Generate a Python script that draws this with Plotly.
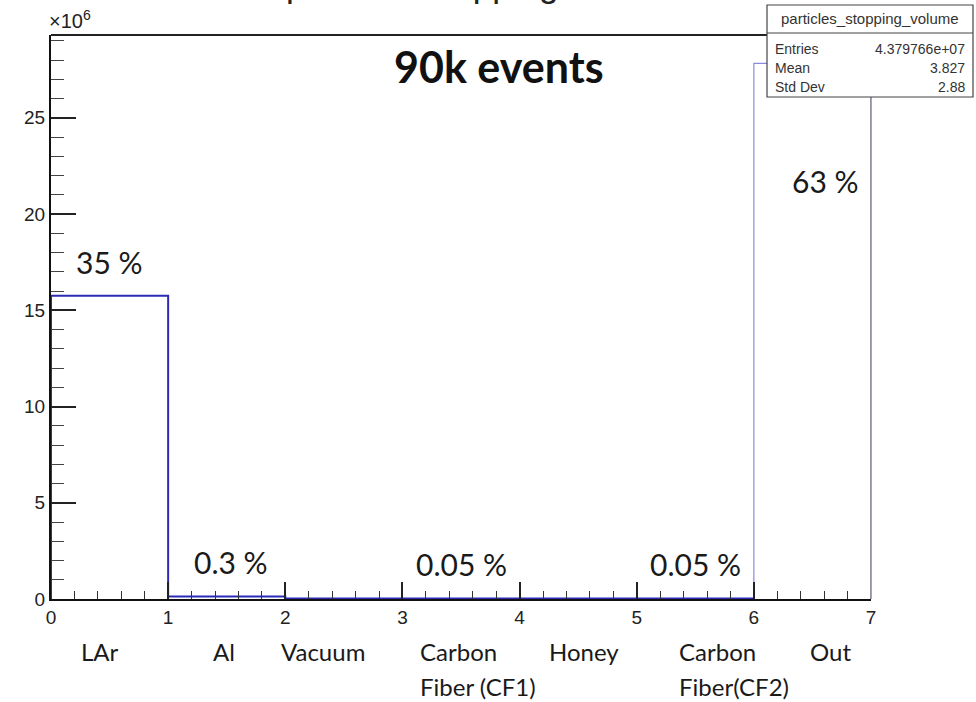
import plotly.graph_objects as go

# Histogram: particles_stopping_volume (counts per volume bin)
bin_edges = [0, 1, 2, 3, 4, 5, 6, 7]
counts = [15.75e6, 0.13e6, 0.022e6, 0.022e6, 0.022e6, 0.022e6, 27.83e6]
volumes = ["LAr", "Al", "Vacuum", "Carbon<br>Fiber (CF1)", "Honey", "Carbon<br>Fiber(CF2)", "Out"]
fractions = ["35 %", "0.3 %", "0.05 %", "0.05 %", "63 %"]
fraction_bins = [0, 1, 3, 5, 6]
y_ticks = [0, 5e6, 10e6, 15e6, 20e6, 25e6]
x_ticks = [0, 1, 2, 3, 4, 5, 6, 7]
stats_rows = [("Entries", "4.379766e+07"), ("Mean", "3.827"), ("Std Dev", "2.88")]
hist_name = "particles_stopping_volume"
title_text = "particles stopping volume"
note_text = "90k events"

W, H = 976, 702
L, R, T, B = 51, 105, 35, 103
PW, PH = W - L - R, H - T - B
Y_MAX = 29.3e6


def px(x):
    return (x - L) / PW


def py(y):
    return (H - B - y) / PH


fig = go.Figure()

# step outline for bins 0..5 (dark blue) and the last bin (lighter, thin)
xs, ys = [], []
for i in range(6):
    xs += [bin_edges[i], bin_edges[i + 1]]
    ys += [counts[i], counts[i]]
xs = [bin_edges[0]] + xs + [bin_edges[6]]
ys = [0] + ys + [0]
fig.add_trace(go.Scatter(x=xs, y=ys, mode="lines",
                         line=dict(color="#2b2bb5", width=2),
                         hoverinfo="skip", showlegend=False))
fig.add_trace(go.Scatter(x=[bin_edges[6], bin_edges[6], bin_edges[7], bin_edges[7]],
                         y=[0, counts[6], counts[6], 0], mode="lines",
                         line=dict(color="#8a8ae0", width=1.2),
                         hoverinfo="skip", showlegend=False))

axis_font = dict(family="Liberation Sans, Arial, sans-serif", size=19, color="#222")
fig.update_layout(
    width=W, height=H,
    margin=dict(l=L, r=R, t=T, b=B, pad=0),
    paper_bgcolor="white", plot_bgcolor="white",
    xaxis=dict(range=[0, 7], tickmode="array", tickvals=x_ticks,
               ticktext=[str(v) for v in x_ticks],
               ticks="inside", ticklen=17, tickwidth=1.5, tickcolor="#222",
               showgrid=False, zeroline=False, showline=True,
               linecolor="#111", linewidth=2, tickfont=axis_font,
               minor=dict(dtick=0.2, tick0=0, ticks="inside", ticklen=8,
                          tickwidth=1.2, tickcolor="#333", showgrid=False)),
    yaxis=dict(range=[0, Y_MAX], tickmode="array", tickvals=y_ticks,
               ticktext=[f"{v / 1e6:g}" for v in y_ticks],
               ticks="inside", ticklen=25, tickwidth=1.5, tickcolor="#222",
               showgrid=False, zeroline=False, showline=True,
               linecolor="#111", linewidth=2, tickfont=axis_font,
               minor=dict(dtick=1e6, tick0=0, ticks="inside", ticklen=13,
                          tickwidth=1.2, tickcolor="#444", showgrid=False)),
)

shapes = [
    # frame top and right edge
    dict(type="line", xref="paper", yref="paper", x0=0, x1=1, y0=1, y1=1,
         line=dict(color="#222", width=2)),
    dict(type="line", xref="paper", yref="paper", x0=1, x1=1, y0=0, y1=1,
         line=dict(color="#888", width=1.5)),
    # stats box
    dict(type="rect", xref="paper", yref="paper", layer="above",
         x0=px(767), x1=px(973), y0=py(97), y1=py(5),
         fillcolor="white", line=dict(color="#444", width=1.2)),
    dict(type="line", xref="paper", yref="paper", layer="above",
         x0=px(767), x1=px(973), y0=py(33), y1=py(33),
         line=dict(color="#444", width=1.2)),
]
fig.update_layout(shapes=shapes)

ann = []
label_font = dict(family="Lato, Open Sans, sans-serif", size=30, color="#1a1a1a")
# horizontal offset of each percentage label from its bin's left edge
frac_dx = [0.2, 0.2, 0.1, 0.1, 0.31]
for txt, b, dx in zip(fractions, fraction_bins, frac_dx):
    if b == 0:
        yy = counts[b] + 1.75e6
    elif counts[b] > 5e6:
        yy = counts[b] - 6.1e6
    else:
        yy = counts[b] + 1.8e6
    ann.append(dict(x=bin_edges[b] + dx, y=yy, xref="x", yref="y",
                    text=txt, showarrow=False, xanchor="left", yanchor="middle",
                    font=label_font))

# volume names under the axis, one annotation per line
label_x = [0.42, 1.48, 2.32, 3.13, 4.55, 5.34, 6.65]
label_anchor = ["center", "center", "center", "left", "center", "left", "center"]
name_font = dict(family="Lato, Open Sans, sans-serif", size=24, color="#1a1a1a")
for name, xv, anc in zip(volumes, label_x, label_anchor):
    for j, line in enumerate(name.split("<br>")):
        ann.append(dict(x=xv, y=py(651 + 35 * j), xref="x", yref="paper", text=line,
                        showarrow=False, xanchor=anc, yanchor="middle",
                        font=name_font))

ann.append(dict(x=px(499), y=py(66), xref="paper", yref="paper",
                text=f"<b>{note_text}</b>", showarrow=False,
                xanchor="center", yanchor="middle",
                font=dict(family="Lato, Open Sans, sans-serif", size=43, color="#111")))

ann.append(dict(x=px(47), y=py(34), xref="paper", yref="paper",
                text="×10<sup>6</sup>", showarrow=False,
                xanchor="left", yanchor="bottom",
                font=dict(family="Liberation Sans, Arial, sans-serif", size=20, color="#222")))

# histogram title, clipped at the top of the canvas
ann.append(dict(x=px(483), y=py(6), xref="paper", yref="paper",
                text=title_text, showarrow=False,
                xanchor="center", yanchor="bottom",
                font=dict(family="Liberation Sans, Arial, sans-serif", size=35, color="#222")))

stats_font = dict(family="Liberation Sans, Arial, sans-serif", size=14, color="#333")
ann.append(dict(x=px(870), y=py(19), xref="paper", yref="paper", text=hist_name,
                showarrow=False, xanchor="center", yanchor="middle",
                font=dict(family="Liberation Sans, Arial, sans-serif", size=15, color="#333")))
for i, (k, v) in enumerate(stats_rows):
    yy = py(49 + i * 19)
    ann.append(dict(x=px(773), y=yy, xref="paper", yref="paper", text=k,
                    showarrow=False, xanchor="left", yanchor="middle", font=stats_font))
    ann.append(dict(x=px(967), y=yy, xref="paper", yref="paper", text=v,
                    showarrow=False, xanchor="right", yanchor="middle", font=stats_font))

fig.update_layout(annotations=ann)
fig.write_html("out.html")
